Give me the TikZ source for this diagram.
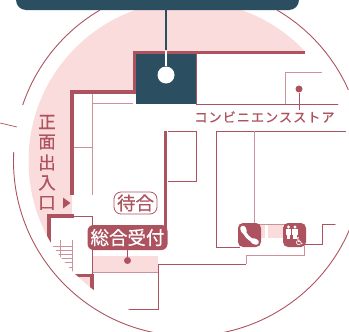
\documentclass[tikz,border=0pt]{standalone}
\usepackage{fontspec}
\newfontfamily\jpfont[FakeBold=.5]{Noto Sans CJK JP}
\newfontfamily\jpspaced[LetterSpace=8,FakeBold=.5]{Noto Sans CJK JP}
\newfontfamily\symfont{DejaVu Sans}
\definecolor{wall}{HTML}{AD5360}
\definecolor{navy}{HTML}{2B4F60}
\definecolor{floor}{HTML}{FBDCDC}
\definecolor{pale}{HTML}{CB929B}
\tikzstyle{thick wall} = [wall, line width=3.5pt]
\tikzstyle{thin wall} = [wall, line width=.9pt]
\tikzstyle{pale wall} = [pale, line width=.9pt]
\tikzstyle{pin} = [circle, minimum width=7pt, fill=wall, inner sep=0pt]
\tikzstyle{icon} = [rounded corners=5pt, fill=wall]
\tikzstyle{entrance} = [wall, inner sep=0pt, font=\jpfont\fontsize{17.5}{17.5}\selectfont]

\begin{document}
\begin{tikzpicture}[x=1pt, y=-1pt]
        \useasboundingbox (0,0) rectangle (349,332);
        \clip (0,0) rectangle (349,332);
        % pink floor and everything that stops at the inner circle
        \begin{scope}
            \clip (188.5,161) circle[radius=160];
            \fill[floor] (0,0) -- (349,0) -- (349,52) -- (133,52) -- (133,91) -- (72,91) -- (72,216) -- (49,216) -- (49,250) -- (0,250) -- cycle;
            \fill[floor] (60,274) rectangle (92,300);
            \fill[floor] (92,256) rectangle (158,272);
            \fill[floor] (258,225) rectangle (265,238);
            \fill[floor] (268,225) rectangle (283,238);
            % stairs
            \foreach \y in {246,250,254,258,262,267}
                \draw[pale wall] (45,\y) -- (72,\y);
            \draw[pale wall] (60,240) -- (60,270);
            \draw[pale wall] (72,240) -- (72,272);
            % thin walls
            \draw[thin wall] (196,52) -- (196,104) -- (349,104);
            \draw[pale wall] (285,104) -- (285,72) -- (322,72);
            \draw[thin wall] (168,131) -- (196,131) -- (196,181) -- (168,181);
            \draw[thin wall] (349,131) -- (216,131) -- (216,247) -- (240,247);
            \draw[pale wall] (254,131) -- (254,224) -- (285,224);
            \draw[thin wall] (304,244) -- (322,244) -- (322,224) -- (337,224);
            \draw[pale wall] (304,246) -- (304,255) -- (246,255) -- (246,264);
            \draw[thin wall] (246,264) -- (158,264) -- (158,309) -- (125,309);
            \draw[pale wall] (92,272.5) -- (158,272.5);
            \draw[pale wall] (92,94) -- (92,195);
            \draw[pale wall] (74,147) -- (92,147);
            \draw[pale wall] (92,103.5) -- (133,103.5);
            \draw[thin wall] (72,216) -- (92,216) -- (92,274);
            % thick walls
            \draw[thick wall] (72,195) -- (72,92) -- (134.5,92) -- (134.5,52.5) -- (305,52.5);
            \draw[thick wall] (74,216) -- (49,216) -- (49,245);
            \draw[thick wall] (72,275.5) -- (92,275.5) -- (92,295);
        \end{scope}
        \draw[thick wall] (165.5,131) -- (165.5,230);
        % outer ring
        \draw[wall, line width=.9pt] (188.5,161) ++(239.6:175) arc[start angle=239.6, end angle=198.7, radius=175];
        \draw[wall, line width=.9pt] (188.5,161) ++(183:175) arc[start angle=183, end angle=23, radius=175];
        \draw[wall, line width=.9pt] (188.5,161) ++(-59.6:175) arc[start angle=-59.6, end angle=-24, radius=175];
        \draw[wall, line width=.7pt] (0,123) -- (17,127);
        % navy room and banner
        \fill[navy] (136,54) rectangle (196,104);
        \node (banner) [fill=navy, rounded corners=10pt, minimum width=283pt, minimum height=30pt, inner sep=0pt] at (157.5,-5) {};
        \node (roomdot) [circle, minimum width=17pt, fill=white, inner sep=0pt] at (166,75) {};
        \draw[navy, line width=2pt] (banner.south -| roomdot) -- (166,50);
        \draw[white, line width=2pt] (166,51) -- (roomdot);
        % front entrance
        \node (ent1) [entrance] at (47,122) {正};
        \node (ent2) [entrance] at (47,142) {面};
        \node (ent3) [entrance] at (47,162.5) {出};
        \node (ent4) [entrance] at (47,183) {入};
        \node (ent5) [entrance] at (47,203) {口};
        \fill[wall] (63,197.5) -- (70.5,203) -- (63,208.5) -- cycle;
        % labels
        \node (waiting) [draw=wall, line width=.8pt, fill=white, rounded corners=7pt, minimum width=43pt, minimum height=22pt, inner sep=0pt, text=wall, font=\jpfont\fontsize{18.5}{18.5}\selectfont] at (135.5,203) {待合};
        \node (reception) [fill=wall, rounded corners=6pt, minimum width=80pt, minimum height=25pt, inner sep=0pt, text=white, font=\jpfont\fontsize{18.5}{18.5}\selectfont] at (127.5,237.5) {総合受付};
        \node (recdot) [pin] at (127.5,260.5) {};
        \draw[thin wall] (reception) -- (recdot);
        \node (store) [text=wall, inner sep=0pt, font=\jpspaced\fontsize{13.1}{13}\selectfont] at (264.5,117) {コンビニエンスストア};
        \node (storedot) [pin] at (299,89) {};
        \draw[thin wall] (storedot) -- (299,110);
        % telephone
        \node (phone) [icon, minimum width=23pt, minimum height=24pt, inner sep=0pt] at (249.5,235) {};
        \draw[white, line width=3.4pt, line cap=round] (243,229) .. controls (245,235) and (249,239.5) .. (255.5,242);
        \draw[white, line width=5.5pt, line cap=round] (243,228.5) -- (244,231);
        \draw[white, line width=5.5pt, line cap=round] (253.5,241) -- (256,242);
        % toilets
        \node (toilet) [icon, minimum width=23pt, minimum height=24pt, inner sep=0pt] at (294.5,235) {};
        \foreach \x in {288.5,295} {
            \fill[white] (\x,227) circle[radius=1.6];
            \fill[white] (\x-2.8,229) rectangle (\x+2.8,234.5);
            \fill[white] (\x-1.8,234.5) rectangle (\x+1.8,238.5);
        }
        \node (wheel) [text=white, inner sep=0pt, font=\symfont\fontsize{11}{11}\selectfont] at (299.5,241) {♿};
    \end{tikzpicture}
\end{document}
